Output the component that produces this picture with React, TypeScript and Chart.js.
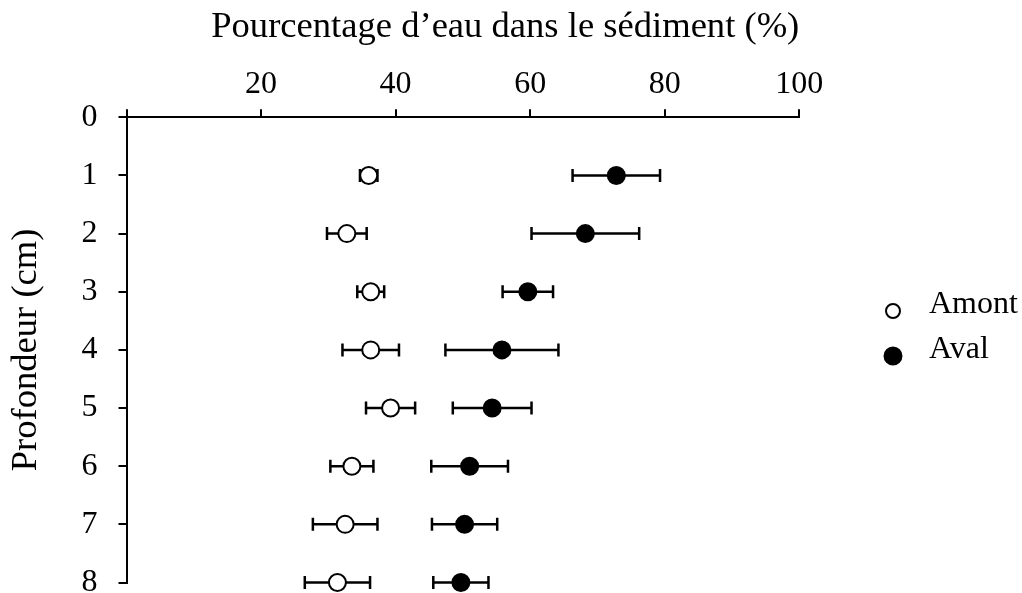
import React, { useEffect, useRef } from "react";
import { Chart, registerables } from "chart.js";

Chart.register(...registerables);

const depths = [1, 2, 3, 4, 5, 6, 7, 8];
const amontMean = [36.0, 32.75, 36.3, 36.3, 39.25, 33.5, 32.5, 31.35];
const amontErr = [1.3, 2.95, 2.0, 4.2, 3.65, 3.2, 4.8, 4.85];
const avalMean = [72.8, 68.2, 59.65, 55.8, 54.35, 51.0, 50.25, 49.7];
const avalErr = [6.5, 8.0, 3.75, 8.4, 5.85, 5.7, 4.85, 4.1];
const xTicks = [0, 20, 40, 60, 80, 100];
const seriesLabels = ["Amont", "Aval"];
const xTitle = "Pourcentage d\u2019eau dans le sédiment (%)";
const yTitle = "Profondeur (cm)";

const FONT = "'Liberation Serif', 'Times New Roman', serif";

const errorBarPlugin = {
  id: "errorBars",
  beforeDatasetsDraw(chart: any) {
    const ctx = chart.ctx;
    const xs = chart.scales.x;
    const ys = chart.scales.y;
    const errs = [amontErr, avalErr];
    ctx.save();
    ctx.strokeStyle = "#000";
    ctx.lineWidth = 2.5;
    chart.data.datasets.forEach((ds: any, di: number) => {
      ds.data.forEach((p: any, i: number) => {
        const e = errs[di][i];
        const x1 = xs.getPixelForValue(p.x - e);
        const x2 = xs.getPixelForValue(p.x + e);
        const y = ys.getPixelForValue(p.y);
        ctx.beginPath();
        ctx.moveTo(x1, y);
        ctx.lineTo(x2, y);
        ctx.moveTo(x1, y - 6.5);
        ctx.lineTo(x1, y + 6.5);
        ctx.moveTo(x2, y - 6.5);
        ctx.lineTo(x2, y + 6.5);
        ctx.stroke();
      });
    });
    ctx.restore();
  },
};

const legendPlugin = {
  id: "customLegend",
  afterDraw(chart: any) {
    const ctx = chart.ctx;
    ctx.save();
    const items = [
      { cy: 311, ty: 312.7, fill: "#fff", r: 7 },
      { cy: 356, ty: 358, fill: "#000", r: 8.5 },
    ];
    items.forEach((it, i) => {
      ctx.beginPath();
      ctx.arc(893, it.cy, it.r, 0, Math.PI * 2);
      ctx.fillStyle = it.fill;
      ctx.fill();
      ctx.lineWidth = 2;
      ctx.strokeStyle = "#000";
      ctx.stroke();
      ctx.fillStyle = "#000";
      ctx.font = `32px ${FONT}`;
      ctx.textAlign = "left";
      ctx.textBaseline = "alphabetic";
      ctx.fillText(chart.data.datasets[i].label, 929, it.ty);
    });
    ctx.restore();
  },
};

export default function App() {
  const ref = useRef<HTMLCanvasElement | null>(null);

  useEffect(() => {
    if (!ref.current) return;
    const chart = new Chart(ref.current, {
      type: "scatter",
      data: {
        datasets: [
          {
            label: seriesLabels[0],
            data: depths.map((d, i) => ({ x: amontMean[i], y: d })),
            pointRadius: 8.5,
            pointBorderWidth: 2,
            pointBackgroundColor: "#fff",
            pointBorderColor: "#000",
            clip: false as any,
          },
          {
            label: seriesLabels[1],
            data: depths.map((d, i) => ({ x: avalMean[i], y: d })),
            pointRadius: 8.5,
            pointBorderWidth: 2,
            pointBackgroundColor: "#000",
            pointBorderColor: "#000",
            clip: false as any,
          },
        ],
      },
      options: {
        responsive: false,
        animation: false,
        layout: { padding: { left: 0, top: 0, right: 222.7, bottom: 9 } },
        plugins: {
          legend: { display: false },
          tooltip: { enabled: false },
        },
        scales: {
          x: {
            type: "linear",
            position: "top",
            min: 0,
            max: 100,
            afterBuildTicks: (scale: any) => {
              scale.ticks = xTicks.map((v) => ({ value: v }));
            },
            afterFit: (scale: any) => {
              scale.height = 117.3;
              scale.paddingLeft = 0;
              scale.paddingRight = 0;
            },
            ticks: {
              color: "#000",
              font: { family: FONT, size: 32 },
              padding: 6,
              maxRotation: 0,
              autoSkip: false,
              callback: (v: any) => (v === 0 ? "" : String(v)),
            },
            grid: {
              display: true,
              drawOnChartArea: false,
              drawTicks: true,
              tickLength: 8,
              color: "#000",
              lineWidth: 2,
            },
            border: { display: true, color: "#000", width: 2 },
            title: {
              display: true,
              text: xTitle,
              align: "end",
              color: "#000",
              font: { family: FONT, size: 36.6 },
              padding: { top: 5, bottom: 0 },
            },
          },
          y: {
            type: "linear",
            reverse: true,
            min: 0,
            max: 8,
            afterBuildTicks: (scale: any) => {
              scale.ticks = [0, ...depths].map((v) => ({ value: v }));
            },
            afterFit: (scale: any) => {
              scale.width = 126.5;
              scale.paddingTop = 0;
              scale.paddingBottom = 0;
            },
            ticks: {
              color: "#000",
              font: { family: FONT, size: 32 },
              padding: 21,
              autoSkip: false,
            },
            grid: {
              display: true,
              drawOnChartArea: false,
              drawTicks: true,
              tickLength: 8,
              color: "#000",
              lineWidth: 2,
            },
            border: { display: true, color: "#000", width: 2 },
            title: {
              display: true,
              text: yTitle,
              color: "#000",
              font: { family: FONT, size: 36.6 },
              padding: { top: 4, bottom: 0 },
            },
          },
        },
      },
      plugins: [errorBarPlugin, legendPlugin],
    });
    return () => chart.destroy();
  }, []);

  return (
    <div style={{ position: "absolute", left: 0, top: 0, width: 1022, height: 593, background: "#fff" }}>
      <canvas ref={ref} width={1022} height={593} style={{ display: "block" }} />
    </div>
  );
}
